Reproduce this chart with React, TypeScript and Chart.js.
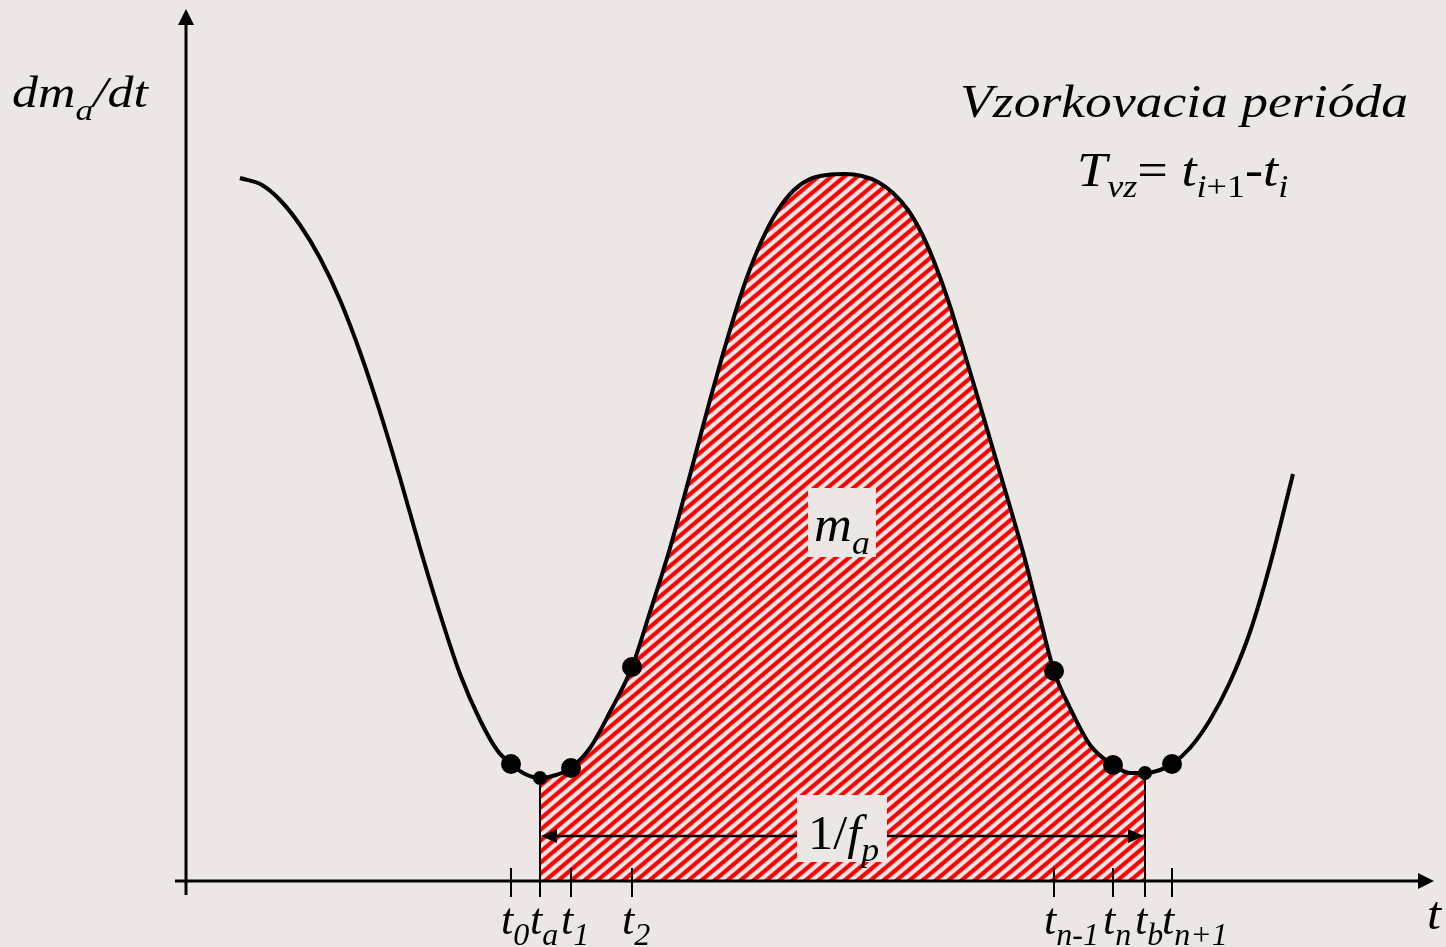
import { useEffect, useRef } from "react";
import { Chart, registerables } from "chart.js";

Chart.register(...registerables);

// Curve of dm_a/dt over time (t measured from the origin, same units on both axes)
const curveT = [54, 76, 94, 114, 134, 154, 174, 194, 214, 234, 254, 274, 294, 311, 325, 339, 354, 370, 385, 404, 424, 446, 464, 484, 504, 524, 544, 560, 576, 592, 608, 624, 641, 659, 676, 692, 707, 722, 736, 749, 762, 776, 791, 806, 822, 837, 852, 868, 884, 904, 927, 944, 959, 974, 986, 1004, 1024, 1044, 1064, 1084, 1107];
const curveV = [703, 696, 681, 656, 623, 581, 529, 469, 403, 333, 267, 207, 161, 131, 117, 107, 103, 106, 113, 133, 169, 214, 269, 333, 406, 481, 551, 601, 641, 671, 691, 702, 706, 707, 705, 699, 688, 671, 647, 617, 581, 536, 486, 435, 381, 329, 271, 210, 173, 136, 116, 108, 108, 111, 117, 133, 161, 199, 249, 316, 407];

// Sampling instants and their labels
const sampleT = [325, 354, 385, 446, 868, 927, 959, 986];
const sampleSub = ["0", "a", "1", "2", "n-1", "n", "b", "n+1"];
const sampleV = [117, 103, 113, 214, 210, 116, 108, 117];
const sampleBig = [true, false, true, true, true, true, false, true];

// Integration limits t_a .. t_b
const limitA = 354;
const limitB = 959;

const X_MAX = 1234;
const Y_MAX = 866;

const BG = "#ece7e4";
const FONT = '"Liberation Serif", "Times New Roman", serif';

type Run = { text: string; size: number; italic?: boolean; dy?: number };

function runsWidth(ctx: CanvasRenderingContext2D, runs: Run[]) {
  let w = 0;
  for (const r of runs) {
    ctx.font = `${r.italic === false ? "" : "italic "}${r.size}px ${FONT}`;
    w += ctx.measureText(r.text).width;
  }
  return w;
}

function drawRuns(ctx: CanvasRenderingContext2D, runs: Run[], x: number, y: number, sx: number, align: "left" | "right" = "left") {
  ctx.save();
  ctx.textBaseline = "alphabetic";
  ctx.textAlign = "left";
  ctx.fillStyle = "#000";
  const w = runsWidth(ctx, runs) * sx;
  ctx.translate(align === "right" ? x - w : x, y);
  ctx.scale(sx, 1);
  let cx = 0;
  for (const r of runs) {
    ctx.font = `${r.italic === false ? "" : "italic "}${r.size}px ${FONT}`;
    ctx.fillText(r.text, cx, r.dy || 0);
    cx += ctx.measureText(r.text).width;
  }
  ctx.restore();
}

// Soft red diagonal stripes ("/" direction), seamless tile holding two stripe periods
function makeHatch(): CanvasPattern | string {
  const px = 13; // stripe period along x
  const py = 11; // stripe period along y
  const w = px * 2;
  const h = py * 2;
  const c = document.createElement("canvas");
  c.width = w;
  c.height = h;
  const g = c.getContext("2d");
  if (!g) return "#ff0000";
  const img = g.createImageData(w, h);
  const light = [237, 232, 231];
  for (let y = 0; y < h; y++) {
    for (let x = 0; x < w; x++) {
      const phase = (x + 0.5) / px + (y + 0.5) / py;
      const c0 = Math.cos(2 * Math.PI * phase);
      const k = Math.min(1, Math.max(0, 0.5 + c0 * 0.95));
      const i = (y * w + x) * 4;
      img.data[i] = Math.round(255 * k + light[0] * (1 - k));
      img.data[i + 1] = Math.round(light[1] * (1 - k));
      img.data[i + 2] = Math.round(light[2] * (1 - k));
      img.data[i + 3] = 255;
    }
  }
  g.putImageData(img, 0, 0);
  return g.createPattern(c, "repeat") || "#ff0000";
}

function arrowHead(ctx: CanvasRenderingContext2D, tipX: number, tipY: number, dx: number, dy: number, len: number, half: number) {
  const bx = tipX - dx * len;
  const by = tipY - dy * len;
  ctx.beginPath();
  ctx.moveTo(tipX, tipY);
  ctx.lineTo(bx - dy * half, by + dx * half);
  ctx.lineTo(bx + dy * half, by - dx * half);
  ctx.closePath();
  ctx.fill();
}

const diagramPlugin = {
  id: "diagram",
  beforeDraw(chart: any) {
    const ctx = chart.ctx as CanvasRenderingContext2D;
    ctx.save();
    ctx.fillStyle = BG;
    ctx.fillRect(0, 0, chart.width, chart.height);
    ctx.restore();
  },
  afterDatasetsDraw(chart: any) {
    const ctx = chart.ctx as CanvasRenderingContext2D;
    const xs = chart.scales.x;
    const ys = chart.scales.y;
    const x0 = xs.getPixelForValue(0);
    const y0 = ys.getPixelForValue(0);
    const xa = xs.getPixelForValue(limitA);
    const xb = xs.getPixelForValue(limitB);
    ctx.save();
    ctx.strokeStyle = "#000";
    ctx.fillStyle = "#000";

    // limits t_a and t_b
    ctx.lineWidth = 2;
    const ia = sampleT.indexOf(limitA);
    const ib = sampleT.indexOf(limitB);
    ctx.beginPath();
    ctx.moveTo(xa, y0);
    ctx.lineTo(xa, ys.getPixelForValue(sampleV[ia]));
    ctx.moveTo(xb, y0);
    ctx.lineTo(xb, ys.getPixelForValue(sampleV[ib]));
    ctx.stroke();

    // axes with arrows
    ctx.lineWidth = 3;
    ctx.beginPath();
    ctx.moveTo(x0 - 11, y0);
    ctx.lineTo(1420, y0);
    ctx.moveTo(x0, y0 + 14);
    ctx.lineTo(x0, 24);
    ctx.stroke();
    arrowHead(ctx, 1434, y0, 1, 0, 16, 8);
    arrowHead(ctx, x0, 9, 0, -1, 16, 8);

    // tick marks
    ctx.lineWidth = 2;
    ctx.beginPath();
    for (const t of sampleT) {
      const px = xs.getPixelForValue(t);
      ctx.moveTo(px, y0 - 13);
      ctx.lineTo(px, y0 + 16);
    }
    ctx.stroke();

    // double arrow 1/f_p
    const ay = 836;
    ctx.lineWidth = 2.5;
    ctx.beginPath();
    ctx.moveTo(xa + 10, ay);
    ctx.lineTo(xb - 10, ay);
    ctx.stroke();
    arrowHead(ctx, xa + 1, ay, -1, 0, 16, 7);
    arrowHead(ctx, xb - 1, ay, 1, 0, 16, 7);

    // label boxes
    ctx.fillStyle = BG;
    ctx.fillRect(808, 488, 68, 69);
    ctx.fillRect(797, 795, 90, 67);
    ctx.restore();

    drawRuns(ctx, [{ text: "m", size: 50 }, { text: "a", size: 34, dy: 13 }], 814, 541, 1.05);
    drawRuns(ctx, [{ text: "1/", size: 48, italic: false }, { text: "f", size: 48 }, { text: "p", size: 34, dy: 12 }], 808, 849, 1.05);

    // axis titles
    drawRuns(ctx, [{ text: "dm", size: 44 }, { text: "a", size: 30, dy: 13 }, { text: "/dt", size: 44 }], 12, 107, 1.18);
    drawRuns(ctx, [{ text: "t", size: 46 }], 1427, 929, 1.1);

    // sampling period note
    drawRuns(ctx, [{ text: "Vzorkovacia perióda", size: 47 }], 1408, 117, 1.14, "right");
    drawRuns(ctx, [
      { text: "T", size: 48 },
      { text: "vz", size: 32, dy: 11 },
      { text: "= ", size: 48, italic: false },
      { text: "t", size: 48 },
      { text: "i", size: 32, dy: 11 },
      { text: "+1", size: 32, dy: 11, italic: false },
      { text: "-", size: 48, italic: false },
      { text: "t", size: 48 },
      { text: "i", size: 32, dy: 11 },
    ], 1077, 186, 1.13);

    // sample labels under the axis
    sampleT.forEach((t, i) => {
      const px = xs.getPixelForValue(t);
      drawRuns(ctx, [{ text: "t", size: 44 }, { text: sampleSub[i], size: 32, dy: 11 }], px - 10, 934, 1.0);
    });
  },
};

export default function App() {
  const ref = useRef<HTMLCanvasElement | null>(null);

  useEffect(() => {
    document.body.style.margin = "0";
    document.body.style.background = BG;
    const canvas = ref.current;
    if (!canvas) return;

    const curve = curveT.map((t, i) => ({ x: t, y: curveV[i] }));
    const area = curve.filter((p) => p.x >= limitA && p.x <= limitB);
    const dotsBig = sampleT.map((t, i) => ({ x: t, y: sampleV[i] })).filter((_, i) => sampleBig[i]);
    const dotsSmall = sampleT.map((t, i) => ({ x: t, y: sampleV[i] })).filter((_, i) => !sampleBig[i]);

    const chart = new Chart(canvas, {
      type: "line",
      data: {
        datasets: [
          {
            label: "m_a",
            data: area,
            borderWidth: 0,
            borderColor: "rgba(0,0,0,0)",
            backgroundColor: makeHatch() as any,
            fill: "origin",
            cubicInterpolationMode: "monotone",
            pointRadius: 0,
            order: 4,
          },
          {
            label: "dm_a/dt",
            data: curve,
            borderColor: "#000",
            borderWidth: 4,
            fill: false,
            cubicInterpolationMode: "monotone",
            pointRadius: 0,
            order: 3,
          },
          {
            label: "samples",
            data: dotsBig,
            showLine: false,
            pointRadius: 10,
            pointBackgroundColor: "#000",
            pointBorderWidth: 0,
            order: 1,
          },
          {
            label: "limits",
            data: dotsSmall,
            showLine: false,
            pointRadius: 7,
            pointBackgroundColor: "#000",
            pointBorderWidth: 0,
            order: 1,
          },
        ],
      },
      options: {
        animation: false,
        responsive: false,
        events: [],
        layout: { padding: { left: 186, right: 1446 - 1420, top: 15, bottom: 947 - 881 } },
        plugins: { legend: { display: false }, tooltip: { enabled: false }, title: { display: false } },
        scales: {
          x: { type: "linear", min: 0, max: X_MAX, display: false },
          y: { type: "linear", min: 0, max: Y_MAX, display: false },
        },
      },
      plugins: [diagramPlugin],
    });
    return () => chart.destroy();
  }, []);

  return (
    <div style={{ position: "fixed", left: 0, top: 0, width: 1446, height: 947, background: BG }}>
      <canvas ref={ref} width={1446} height={947} style={{ display: "block" }} />
    </div>
  );
}
